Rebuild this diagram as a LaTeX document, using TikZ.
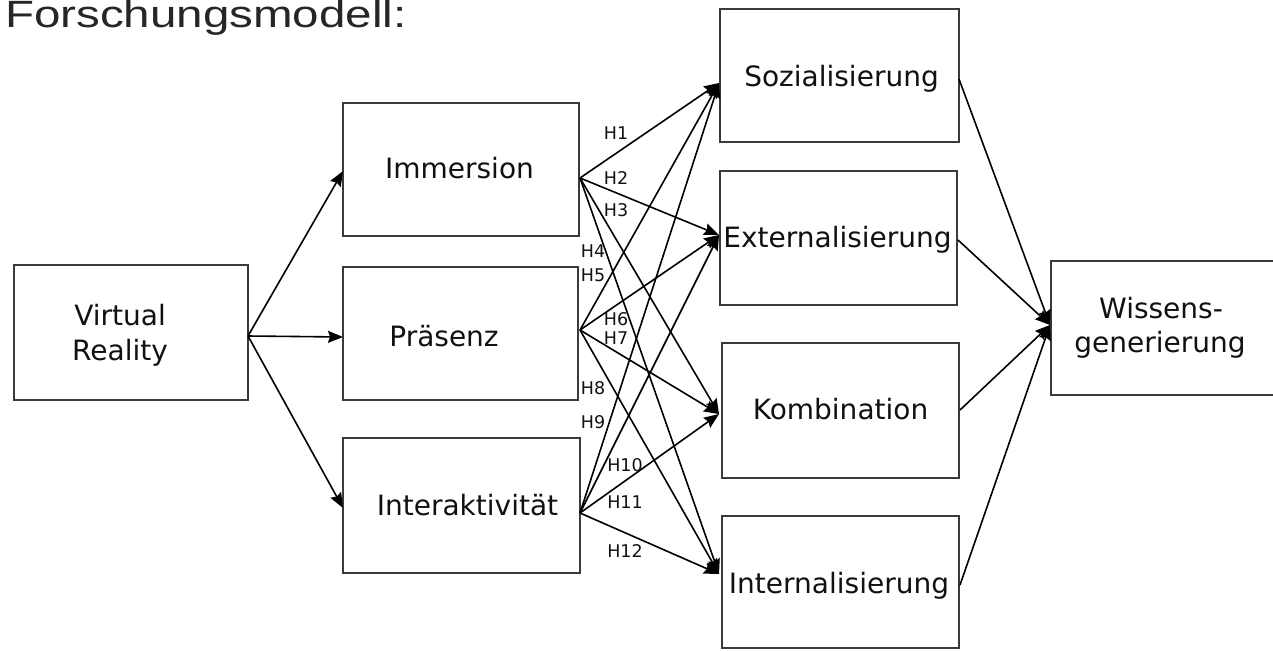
\documentclass[tikz,border=0pt]{standalone}
\usepackage{fontspec}
\setmainfont{DejaVu Sans}
\newfontfamily\titlefont[FakeStretch=1.25]{Liberation Sans}
\usetikzlibrary{arrows.meta}
\definecolor{boxgray}{HTML}{3A3A3A}
\definecolor{txt}{HTML}{111111}
\definecolor{ttl}{HTML}{262626}
\begin{document}
\begin{tikzpicture}[x=1pt,y=-1pt,
  box/.style={draw=boxgray, line width=1.8pt, inner sep=0pt, fill=white},
  lbl/.style={font=\fontsize{28}{34}\selectfont, text=txt, inner sep=0pt, anchor=base},
  hlbl/.style={font=\fontsize{17.5}{20}\selectfont, text=txt, inner sep=0pt, anchor=center},
  arr/.style={line width=1.6pt, -{Stealth[length=15pt,width=12pt,inset=2pt]}}]
\useasboundingbox (0,0) rectangle (1273,650);
\clip (0,0) rectangle (1273,650);
% title
\node[font=\titlefont\fontsize{38}{44}\selectfont, text=ttl, inner sep=0pt, anchor=base west] (title) at (5,28) {Forschungsmodell:};
% boxes
\node[box, minimum width=234pt, minimum height=135pt] (vr) at (131,332.5) {};
\node[box, minimum width=236pt, minimum height=133pt] (imm) at (461,169.5) {};
\node[box, minimum width=235pt, minimum height=133pt] (pra) at (460.5,333.5) {};
\node[box, minimum width=237pt, minimum height=135pt] (inter) at (461.5,505.5) {};
\node[box, minimum width=239pt, minimum height=133pt] (soz) at (839.5,75.5) {};
\node[box, minimum width=237pt, minimum height=134pt] (ext) at (838.5,238) {};
\node[box, minimum width=237pt, minimum height=135pt] (komb) at (840.5,410.5) {};
\node[box, minimum width=237pt, minimum height=132pt] (intl) at (840.5,582) {};
\node[box, minimum width=240pt, minimum height=134pt] (wis) at (1171,328) {};
% texts
\node[lbl] (tvr1) at (120,325) {Virtual};
\node[lbl] (tvr2) at (120,360) {Reality};
\node[lbl] (timm) at (459.5,178) {Immersion};
\node[lbl] (tpra) at (444,346) {Präsenz};
\node[lbl] (tint) at (467.5,515) {Interaktivität};
\node[lbl] (tsoz) at (841.5,87) {Sozialisierung};
\node[lbl] (text) at (837.5,247) {Externalisierung};
\node[lbl] (tkomb) at (840.5,419) {Kombination};
\node[lbl] (tintl) at (839,593) {Internalisierung};
\node[lbl] (twis1) at (1161,318) {Wissens-};
\node[lbl] (twis2) at (1160,352) {generierung};
% connection points
\coordinate (vrO) at (248,336);
\coordinate (immI) at (343,171);
\coordinate (praI) at (343,337);
\coordinate (intI) at (343,508);
\coordinate (immO) at (580,178);
\coordinate (praO) at (580,330);
\coordinate (intO) at (580,513);
\coordinate (sozI) at (719,83);
\coordinate (extI) at (719,235);
\coordinate (kombI) at (719,414);
\coordinate (intlI) at (719,574);
\coordinate (sozO) at (959,79);
\coordinate (extO) at (958,240);
\coordinate (kombO) at (960,410);
\coordinate (intlO) at (960,585);
\coordinate (wisI) at (1050,325);
% arrows
\draw[arr] (vrO) -- (immI);
\draw[arr] (vrO) -- (praI);
\draw[arr] (vrO) -- (intI);
\foreach \s in {immO,praO,intO}
  \foreach \t in {sozI,extI,kombI,intlI}
    \draw[arr] (\s) -- (\t);
\foreach \s in {sozO,extO,kombO,intlO}
  \draw[arr] (\s) -- (wisI);
% hypothesis labels
\node[hlbl] (h1) at (616,133) {H1};
\node[hlbl] (h2) at (616,178) {H2};
\node[hlbl] (h3) at (616,210) {H3};
\node[hlbl] (h4) at (593,251) {H4};
\node[hlbl] (h5) at (593,275) {H5};
\node[hlbl] (h6) at (616,319) {H6};
\node[hlbl] (h7) at (616,338) {H7};
\node[hlbl] (h8) at (593,388) {H8};
\node[hlbl] (h9) at (593,422) {H9};
\node[hlbl] (h10) at (625,465) {H10};
\node[hlbl] (h11) at (625,502) {H11};
\node[hlbl] (h12) at (625,551) {H12};
\end{tikzpicture}
\end{document}
